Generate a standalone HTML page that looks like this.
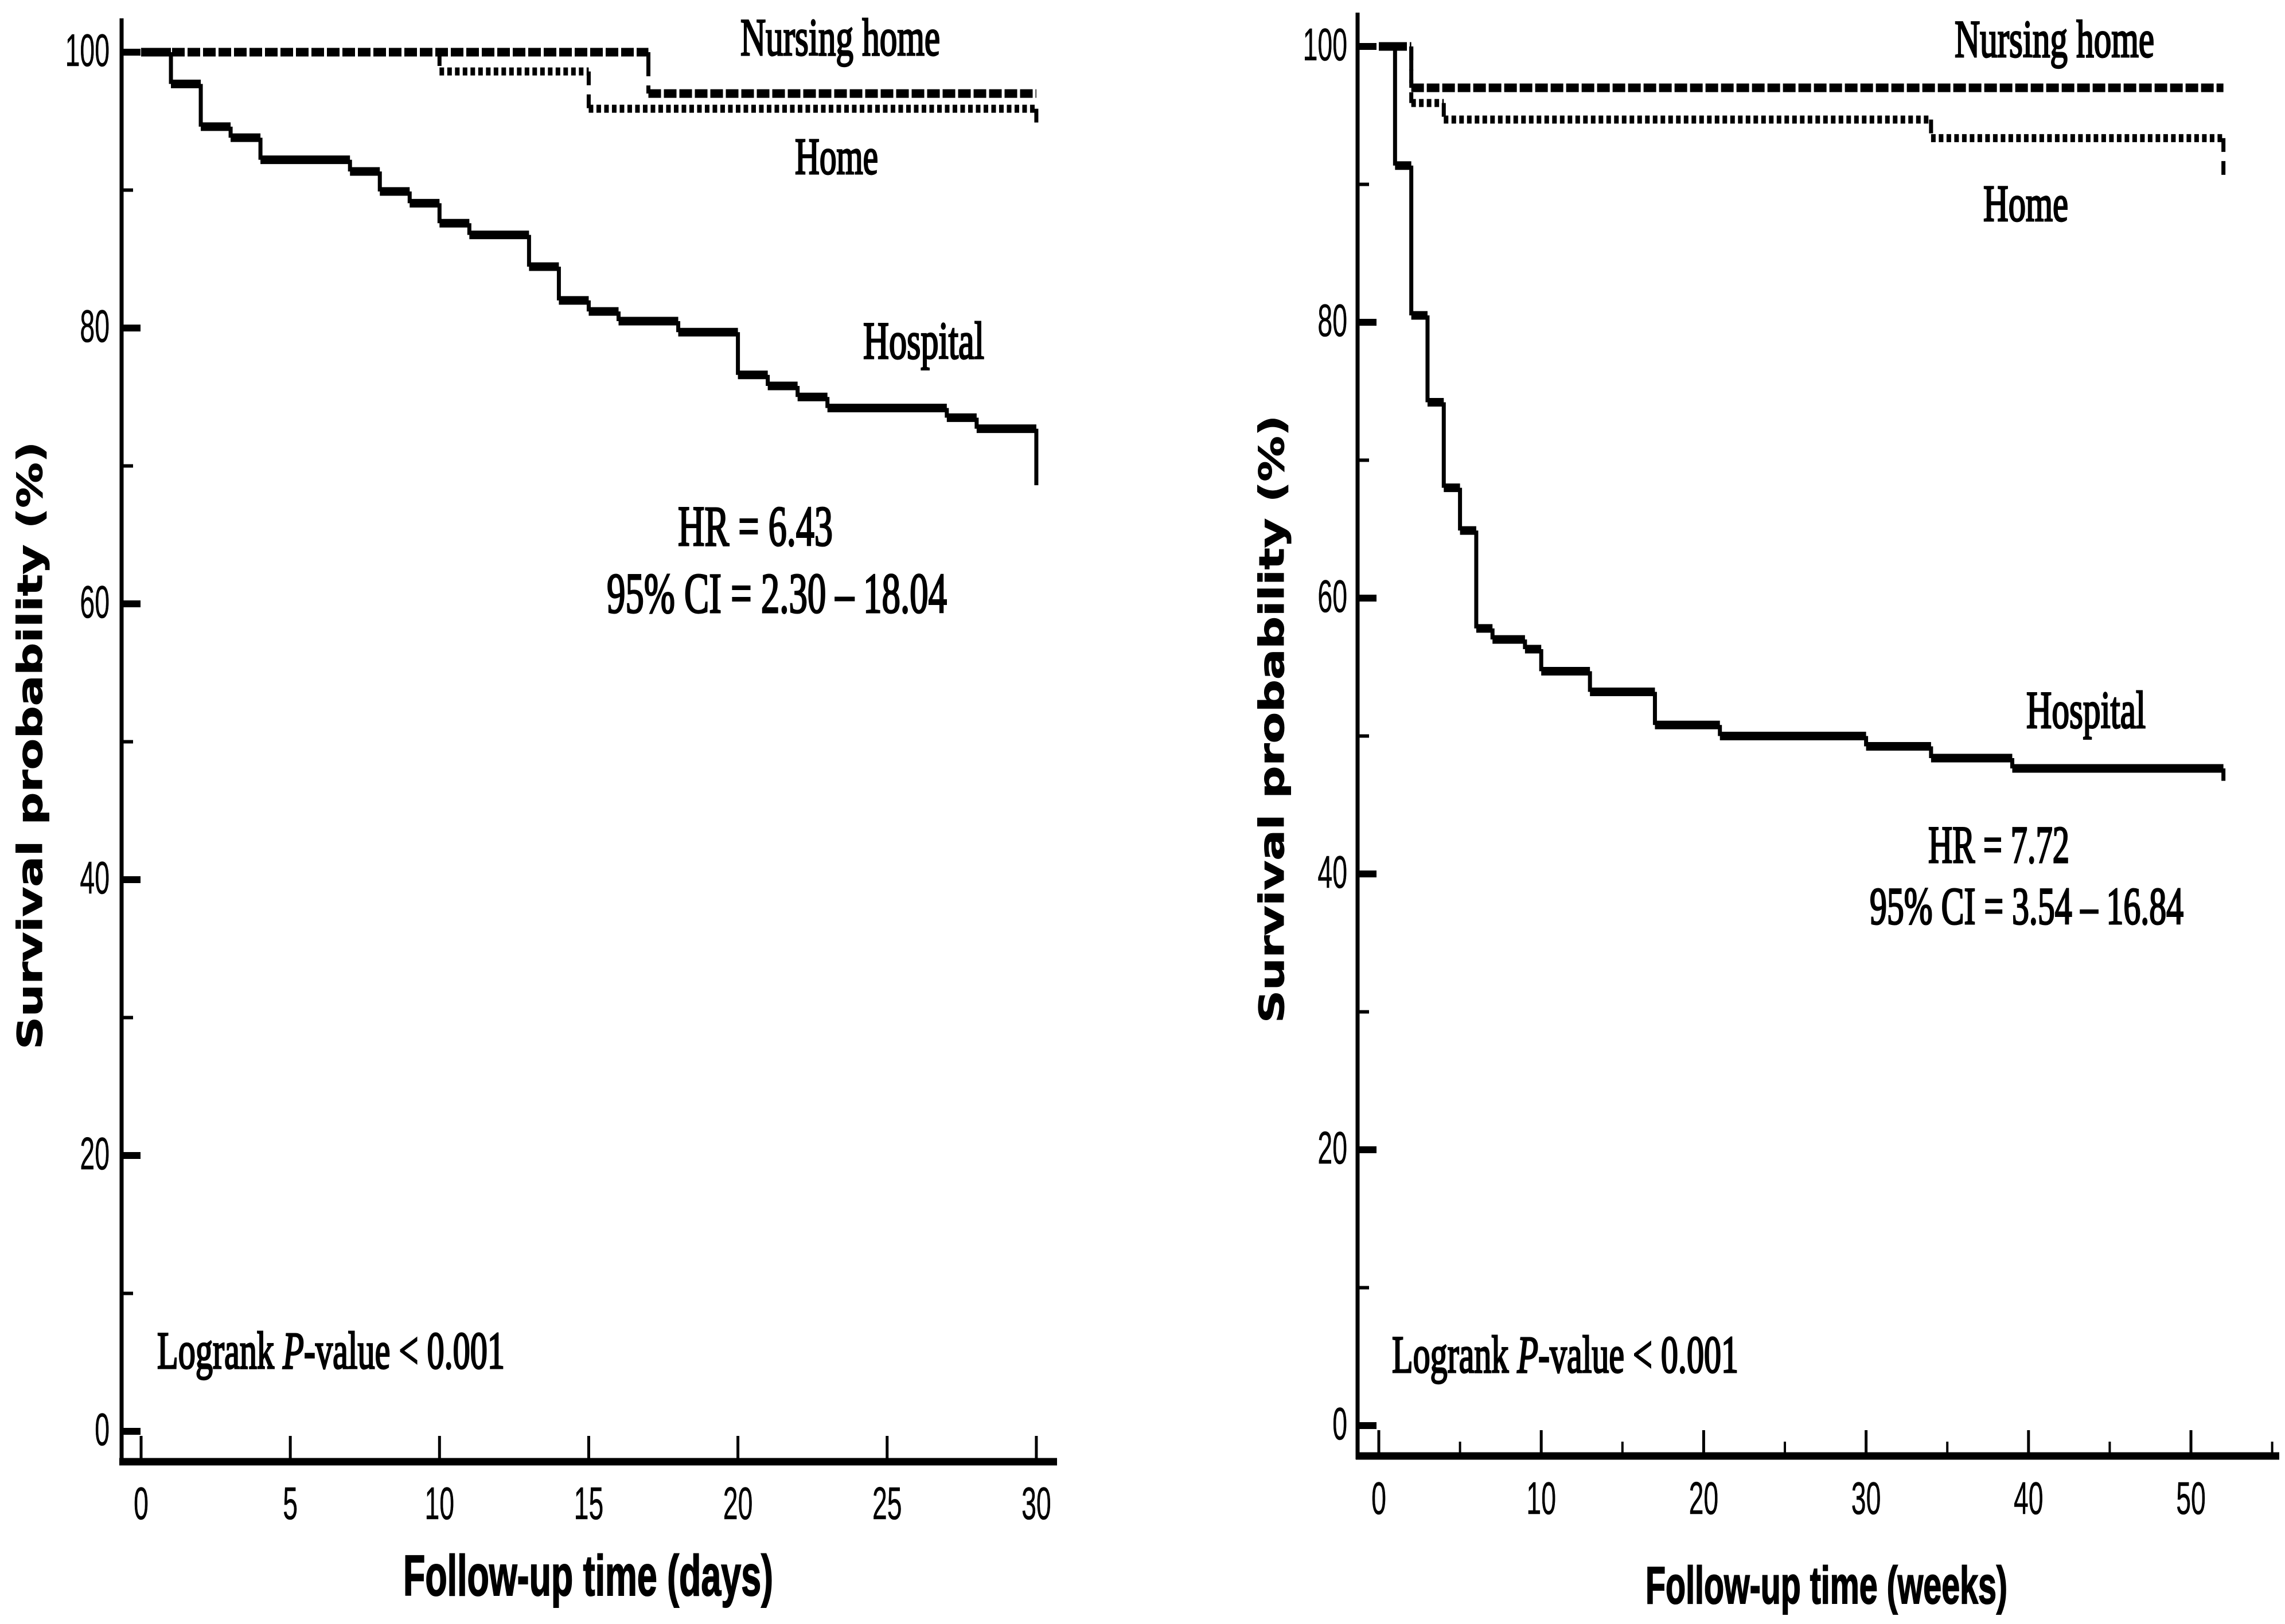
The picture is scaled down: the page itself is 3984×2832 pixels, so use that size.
<!DOCTYPE html>
<html lang="en">
<head>
<meta charset="utf-8">
<title>Survival curves by place of care</title>
<style>
html,body{margin:0;padding:0;background:#fff;}
svg{display:block;}
.ann{font-family:"Liberation Serif",serif;fill:#000;stroke:#000;stroke-width:3px;}
.xt{font-family:"Liberation Sans",sans-serif;font-weight:700;fill:#000;stroke:#000;stroke-width:2px;}
.yt{font-family:"DejaVu Sans",sans-serif;font-weight:700;fill:#000;stroke:#000;stroke-width:1px;}
.tick{font-family:"Liberation Sans",sans-serif;fill:#000;font-size:80px;stroke:#000;stroke-width:0.6px;}
</style>
</head>
<body>
<svg id="fig" xmlns="http://www.w3.org/2000/svg" width="3984" height="2832" viewBox="0 0 3984 2832">
<rect width="3984" height="2832" fill="#fff"/>

<g id="panelA">
<text class="yt" transform="translate(73,1830) rotate(-90)" font-size="60" textLength="1060" lengthAdjust="spacingAndGlyphs">Survival probability (%)</text>
<text class="xt" x="703" y="2782" font-size="100" textLength="645" lengthAdjust="spacingAndGlyphs">Follow-up time (days)</text>
<text class="ann" x="1291" y="96" font-size="92" textLength="348" lengthAdjust="spacingAndGlyphs">Nursing home</text>
<text class="ann" x="1386" y="303" font-size="90" textLength="145" lengthAdjust="spacingAndGlyphs">Home</text>
<text class="ann" x="1505" y="625" font-size="92" textLength="211" lengthAdjust="spacingAndGlyphs">Hospital</text>
<text class="ann" x="1182" y="951" font-size="100" textLength="270" lengthAdjust="spacingAndGlyphs">HR = 6.43</text>
<text class="ann" x="1058" y="1068" font-size="100" textLength="593" lengthAdjust="spacingAndGlyphs">95% CI = 2.30 – 18.04</text>
<text class="ann" x="274" y="2386" font-size="92" textLength="606" lengthAdjust="spacingAndGlyphs">Logrank <tspan font-style="italic">P</tspan>-value &lt; 0.001</text>
</g>

<g id="panelB">
<text class="yt" transform="translate(2238,1784) rotate(-90)" font-size="60" textLength="1060" lengthAdjust="spacingAndGlyphs">Survival probability (%)</text>
<text class="xt" x="2869" y="2796" font-size="92" textLength="631" lengthAdjust="spacingAndGlyphs">Follow-up time (weeks)</text>
<text class="ann" x="3408" y="99" font-size="92" textLength="348" lengthAdjust="spacingAndGlyphs">Nursing home</text>
<text class="ann" x="3458" y="385" font-size="90" textLength="148" lengthAdjust="spacingAndGlyphs">Home</text>
<text class="ann" x="3533" y="1269" font-size="92" textLength="208" lengthAdjust="spacingAndGlyphs">Hospital</text>
<text class="ann" x="3362" y="1504" font-size="92" textLength="246" lengthAdjust="spacingAndGlyphs">HR = 7.72</text>
<text class="ann" x="3260" y="1611" font-size="92" textLength="547" lengthAdjust="spacingAndGlyphs">95% CI = 3.54 – 16.84</text>
<text class="ann" x="2427" y="2393" font-size="92" textLength="604" lengthAdjust="spacingAndGlyphs">Logrank <tspan font-style="italic">P</tspan>-value &lt; 0.001</text>
</g>
</svg>

<script>
// Left panel: follow-up in days
const daysXTickValues = [0, 5, 10, 15, 20, 25, 30];
const daysXMinorTicks = [];
const daysHospitalTime = [0, 1, 2, 3, 4, 7, 8, 9, 10, 11, 13, 14, 15, 16, 18, 20, 21, 22, 23, 27, 28, 30];
const daysHospitalSurvival = [100, 97.7, 94.6, 93.8, 92.2, 91.35, 89.9, 89.05, 87.6, 86.75, 84.45, 82.0, 81.2, 80.5, 79.7, 76.6, 75.8, 75.0, 74.2, 73.5, 72.7, 68.6];
const daysNursingTime = [0, 17, 30];
const daysNursingSurvival = [100, 97.0, 97.0];
const daysHomeTime = [0, 10, 15, 30];
const daysHomeSurvival = [100, 98.6, 95.9, 94.25];

// Right panel: follow-up in weeks
const weeksXTickValues = [0, 10, 20, 30, 40, 50];
const weeksXMinorTicks = [5, 15, 25, 35, 45, 55];
const weeksHospitalTime = [0, 1, 2, 3, 4, 5, 6, 7, 9, 10, 13, 17, 21, 30, 34, 39, 52];
const weeksHospitalSurvival = [100, 91.36, 80.5, 74.2, 68.0, 64.9, 57.8, 57.0, 56.3, 54.7, 53.2, 50.8, 50.0, 49.25, 48.4, 47.65, 46.75];
const weeksNursingTime = [0, 2, 52];
const weeksNursingSurvival = [100, 97.0, 97.0];
const weeksHomeTime = [0, 2, 4, 34, 52];
const weeksHomeSurvival = [100, 95.9, 94.7, 93.35, 90.65];

// Shared y axis
const yTickValues = [0, 20, 40, 60, 80, 100];
const yMinorTicks = [10, 30, 50, 70, 90];

const NS = 'http://www.w3.org/2000/svg';

function newLine(parent, x1, y1, x2, y2, w) {
  const el = document.createElementNS(NS, 'line');
  el.setAttribute('x1', x1);
  el.setAttribute('y1', y1);
  el.setAttribute('x2', x2);
  el.setAttribute('y2', y2);
  el.setAttribute('stroke', '#000');
  el.setAttribute('stroke-width', w);
  parent.appendChild(el);
  return el;
}

function newTickLabel(parent, px, py, str, anchor) {
  const el = document.createElementNS(NS, 'text');
  el.setAttribute('class', 'tick');
  el.setAttribute('transform', 'translate(' + px + ',' + py + ') scale(0.58,1)');
  el.setAttribute('text-anchor', anchor);
  el.textContent = str;
  parent.appendChild(el);
  return el;
}

function newPath(parent, d, w, dash) {
  const el = document.createElementNS(NS, 'path');
  el.setAttribute('d', d);
  el.setAttribute('fill', 'none');
  el.setAttribute('stroke', '#000');
  el.setAttribute('stroke-width', w);
  if (dash) el.setAttribute('stroke-dasharray', dash);
  parent.appendChild(el);
  return el;
}

function drawSteps(parent, xs, ys, times, survival, hDash, vDash, hWidth, vWidth, skipBaseline, seriesName) {
  let hD = '';
  let vD = '';
  for (let i = 0; i < times.length - 1; i++) {
    // The home curve's plateau at 100 lies hidden beneath the nursing-home dashes.
    if (!(skipBaseline && survival[i] === 100)) {
      hD += 'M' + xs(times[i]) + ' ' + ys(survival[i]) + 'H' + xs(times[i + 1]);
    }
    vD += 'M' + xs(times[i + 1]) + ' ' + ys(survival[i]) + 'V' + ys(survival[i + 1]);
  }
  const horizontal = newPath(parent, hD, hWidth, hDash);
  
  
  const vertical = newPath(parent, vD, vWidth, vDash);
  
  
}

function drawPanel(parent, cfg) {
  const xs = function (t) { return cfg.x0 + t * cfg.xUnit; };
  const ys = function (v) { return cfg.y100 + (100 - v) * 24.05; };

  const yAxis = newLine(parent, cfg.axisX, cfg.axisTop, cfg.axisX, cfg.xAxisY + 6, 7);
  
  

  const xAxis = newLine(parent, cfg.axisLeft, cfg.xAxisY, cfg.axisRight, cfg.xAxisY, 13);
  
  

  yTickValues.forEach(function (v) {
    const t = newLine(parent, cfg.axisX, ys(v), cfg.axisX + 33, ys(v), 12);
    
    
    const lab = newTickLabel(parent, cfg.yLabelX, ys(v) + 24, String(v), 'end');
    
    
  });
  yMinorTicks.forEach(function (v) {
    const t = newLine(parent, cfg.axisX, ys(v), cfg.axisX + 20, ys(v), 6);
    
    
  });

  cfg.xTicks.forEach(function (v) {
    const t = newLine(parent, xs(v), cfg.xAxisY - 45, xs(v), cfg.xAxisY, 5);
    
    
    const lab = newTickLabel(parent, xs(v), cfg.xLabelY, String(v), 'middle');
    
    
  });
  cfg.xMinor.forEach(function (v) {
    const t = newLine(parent, xs(v), cfg.xAxisY - 25, xs(v), cfg.xAxisY, 4);
    
    
  });

  drawSteps(parent, xs, ys, cfg.hospitalT, cfg.hospitalS, null, null, 15, 7, false, 'hospital-curve');
  drawSteps(parent, xs, ys, cfg.homeT, cfg.homeS, '8 5.5', '24 16', 14, 7, true, 'home-curve');
  drawSteps(parent, xs, ys, cfg.nursingT, cfg.nursingS, '22 5', '42 16', 15, 7, false, 'nursing-home-curve');
}

drawPanel(document.getElementById('panelA'), {
  x0: 246, xUnit: 52.03, y100: 91,
  axisX: 212, axisTop: 32, axisLeft: 208, axisRight: 1843, xAxisY: 2549,
  yLabelX: 191, xLabelY: 2649,
  xTicks: daysXTickValues, xMinor: daysXMinorTicks,
  homeT: daysHomeTime, homeS: daysHomeSurvival,
  nursingT: daysNursingTime, nursingS: daysNursingSurvival,
  hospitalT: daysHospitalTime, hospitalS: daysHospitalSurvival
});

drawPanel(document.getElementById('panelB'), {
  x0: 2404, xUnit: 28.32, y100: 81,
  axisX: 2367, axisTop: 22, axisLeft: 2364, axisRight: 3974, xAxisY: 2539,
  yLabelX: 2349, xLabelY: 2640,
  xTicks: weeksXTickValues, xMinor: weeksXMinorTicks,
  homeT: weeksHomeTime, homeS: weeksHomeSurvival,
  nursingT: weeksNursingTime, nursingS: weeksNursingSurvival,
  hospitalT: weeksHospitalTime, hospitalS: weeksHospitalSurvival
});
</script>
</body>
</html>
